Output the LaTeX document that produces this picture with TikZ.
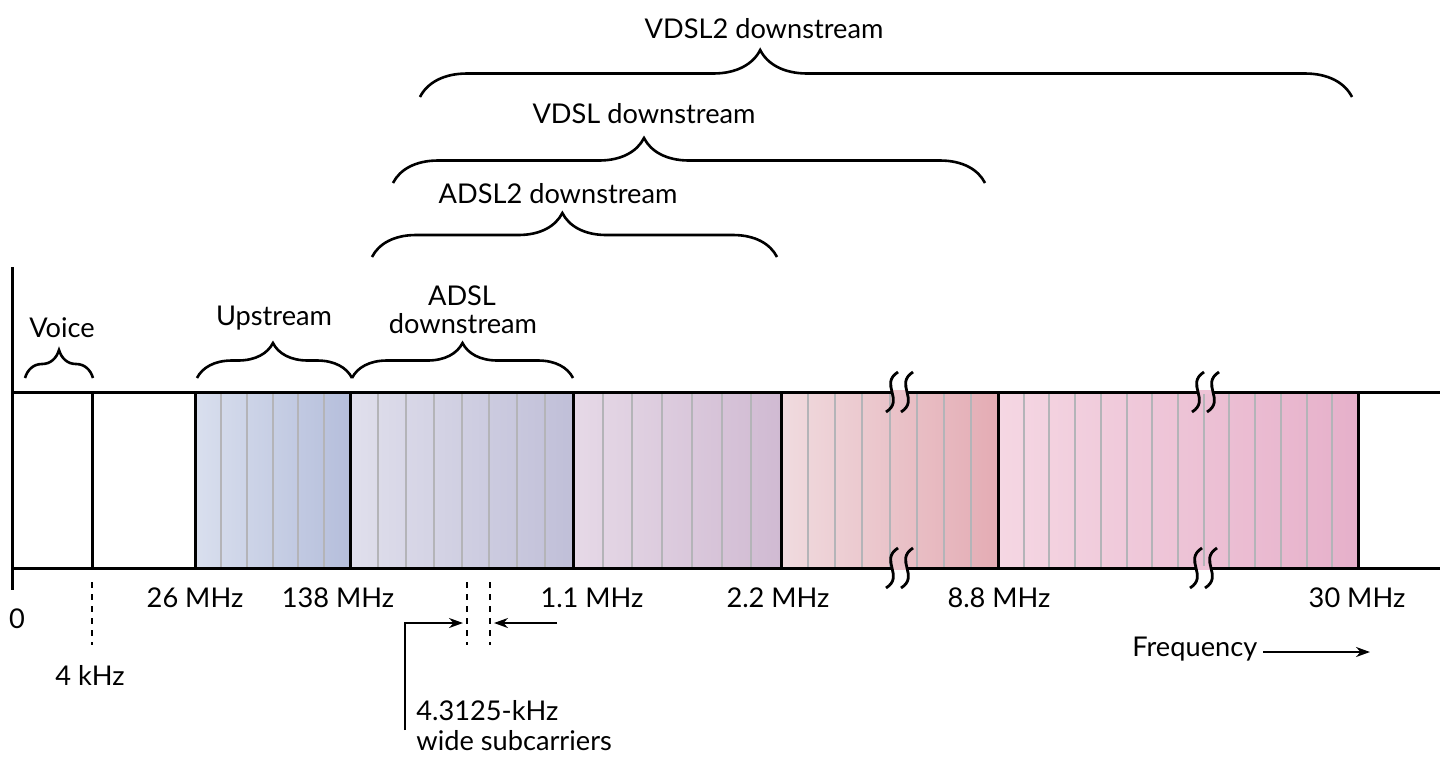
\documentclass[tikz,border=0pt]{standalone}
\usepackage{fontspec}
\setmainfont{Lato}
\usepackage{tikz}
\usetikzlibrary{decorations.pathreplacing}
\usetikzlibrary{arrows.meta}
\definecolor{upL}{HTML}{D9DFEE}
\definecolor{upR}{HTML}{B5BEDB}
\definecolor{adL}{HTML}{E0DFEC}
\definecolor{adR}{HTML}{C0BFD8}
\definecolor{atL}{HTML}{E6D9E7}
\definecolor{atR}{HTML}{D0BAD2}
\definecolor{voL}{HTML}{F0DBDF}
\definecolor{voR}{HTML}{E4ACB4}
\definecolor{voM}{HTML}{EBC3C9}
\definecolor{vtL}{HTML}{F5D7E3}
\definecolor{vtR}{HTML}{E6B0CA}
\definecolor{vtM}{HTML}{EDC3D6}
\definecolor{subgray}{HTML}{B4B4B8}
\tikzstyle{sub} = [line width=1pt, color=subgray]
\tikzstyle{edge} = [line width=1.5pt]
\tikzstyle{curly} = [line width=1.3pt, decorate]
\tikzstyle{dashline} = [line width=1.2pt, dash pattern=on 3pt off 3pt]
\tikzstyle{pointer} = [line width=1.1pt, -{Stealth[length=7pt,width=5pt]}]
\tikzstyle{lbl} = [inner sep=0pt, anchor=base, font=\fontsize{13.6}{15}\selectfont]

\begin{document}
\begin{tikzpicture}[x=0.5pt,y=-0.5pt]
			\useasboundingbox (0,0) rectangle (1440,762);
			\shade[left color=upL, right color=upR] (195,392) rectangle (350,568);
			\shade[left color=adL, right color=adR] (350,392) rectangle (573,568);
			\shade[left color=atL, right color=atR] (573,392) rectangle (781,568);
			\shade[left color=voL, right color=voR] (781,392) rectangle (998,568);
			\shade[left color=vtL, right color=vtR] (998,392) rectangle (1358,568);
			\foreach \a/\b/\n/\m in {195/350/6/5, 350/573/8/7, 573/781/7/6, 781/998/8/7, 998/1358/14/13}
				\foreach \i in {1,...,\m}
					\draw[sub] ({\a+\i*(\b-\a)/\n},392) -- ({\a+\i*(\b-\a)/\n},568);
			\draw[edge] (12,267) -- (12,590);
			\draw[edge] (12,392) -- (1440,392);
			\draw[edge] (12,568) -- (1440,568);
			\foreach \x in {92,195,350,573,781,998,1358}
				\draw[edge] (\x,392) -- (\x,568);
			\foreach \x/\y/\c in {892/392/voM, 892/568/voM, 1198/392/vtM, 1196/568/vtM} {
				\draw[line width=2pt, \c] (\x,\y) -- (\x+15,\y);
				\foreach \d in {0,15}
					\draw[line width=1.4pt] (\x+\d+6,\y-20) .. controls (\x+\d-13,\y-8) and (\x+\d+13,\y+8) .. (\x+\d-6,\y+20);
			}

			\draw[curly, decoration={brace, amplitude=14pt}] (25,378) -- (93,378);
			\draw[curly, decoration={brace, amplitude=17.5pt, aspect=0.49}] (197,378) -- (352,378);
			\draw[curly, decoration={brace, amplitude=17.5pt, aspect=0.5}] (352,378) -- (573,378);
			\draw[curly, decoration={brace, amplitude=22pt, aspect=0.47}] (372,257) -- (777,257);
			\draw[curly, decoration={brace, amplitude=22.5pt, aspect=0.424}] (393,183) -- (985,183);
			\draw[curly, decoration={brace, amplitude=23.5pt, aspect=0.365}] (420,97) -- (1352,97);

			\node[lbl] (voice) at (62,337) {Voice};
			\node[lbl] (upstream) at (274,325) {Upstream};
			\node[lbl] (adsl) at (462,305) {ADSL};
			\node[lbl] (adsldown) at (463,333) {downstream};
			\node[lbl] (adsltwo) at (558,203) {ADSL2 downstream};
			\node[lbl] (vdsl) at (644,123) {VDSL downstream};
			\node[lbl] (vdsltwo) at (764,38) {VDSL2 downstream};

			\node[lbl] (f0) at (17,628) {0};
			\node[lbl] (f4k) at (90,685) {4 kHz};
			\node[lbl] (f26) at (195,607) {26 MHz};
			\node[lbl] (f138) at (338,607) {138 MHz};
			\node[lbl] (f11) at (592,607) {1.1 MHz};
			\node[lbl] (f22) at (778,607) {2.2 MHz};
			\node[lbl] (f88) at (999,607) {8.8 MHz};
			\node[lbl] (f30) at (1357,607) {30 MHz};
			\node[lbl, anchor=base west] (freq) at (1132,656) {Frequency};
			\node[lbl, anchor=north west, align=left] (subc) at (416,700) {4.3125-kHz\\wide subcarriers};

			\draw[dashline] (92,582) -- (92,645);
			\draw[dashline] (467,582) -- (467,645);
			\draw[dashline] (490,582) -- (490,645);

			\coordinate (subk) at (405,730);
			\coordinate (subl) at (463,623);
			\coordinate (subs) at (557,623);
			\coordinate (subr) at (494,623);
			\coordinate (fbeg) at (1263,652);
			\coordinate (fend) at (1370,652);
			\draw[pointer] (subk) |- (subl);
			\draw[pointer] (subs) -- (subr);
			\draw[pointer] (fbeg) -- (fend);
		\end{tikzpicture}
\end{document}
